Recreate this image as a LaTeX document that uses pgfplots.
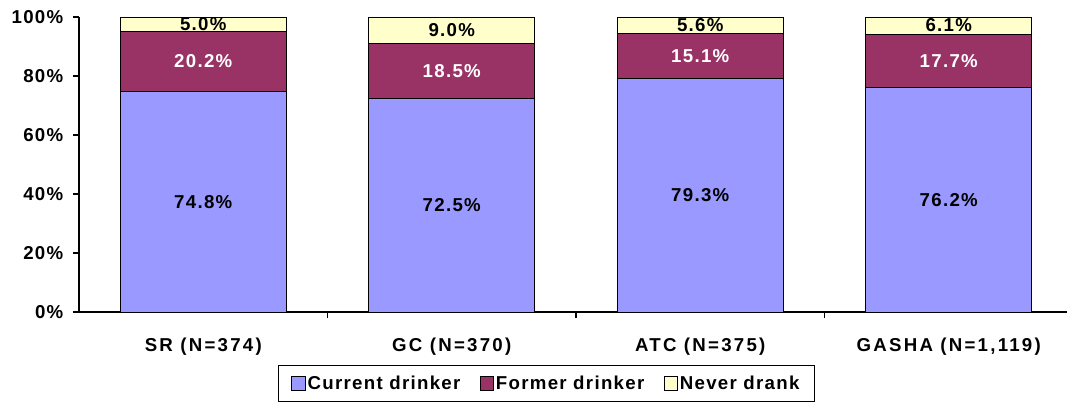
\documentclass[border=0pt]{standalone}
\usepackage{pgfplots}
\pgfplotsset{compat=1.18}
\usepackage{fontspec}
\setmainfont{Liberation Sans}[LetterSpace=7]
\newfontfamily\catfamily{Liberation Sans}[LetterSpace=12]
\definecolor{cur}{HTML}{9999FF}
\definecolor{form}{HTML}{993366}
\definecolor{never}{HTML}{FFFFCC}
\newcommand{\lblfont}{\bfseries\fontsize{14}{16}\selectfont}
\newcommand{\catfont}{\catfamily\bfseries\fontsize{14}{16}\selectfont}
\pgfplotsset{
  base/.style={width=745.5pt,height=221.25pt,scale only axis,
    xmin=-0.5,xmax=3.5,ymin=0,ymax=100,at={(0,0)},anchor=south west},
}
\begin{document}
\begin{tikzpicture}
\path[use as bounding box] (-59.25pt,-69pt) rectangle (741pt,234pt);
\begin{axis}[base,
  ybar stacked, bar width=0.668,
  axis x line*=bottom, axis y line*=left,
  axis line style={-,line width=0.8pt},
  ytick={0,20,40,60,80,100},
  yticklabels={0\%,20\%,40\%,60\%,80\%,100\%},
  y tick label style={font=\lblfont,xshift=-3.75pt},
  tick align=outside, major tick length=4.5pt,
  tick style={line width=0.8pt,black},
  xtick={0.5,1.5,2.5}, xticklabels={},
  legend columns=3,
  legend style={at={(0.4703,-0.2424)},anchor=center,draw=black,line width=0.8pt,
    font=\lblfont, inner xsep=10pt, inner ysep=6pt,
    nodes={inner xsep=1.5pt},
    /tikz/every even column/.append style={column sep=13pt}},
  legend image code/.code={\draw[#1,draw=black,line width=0.6pt] (0pt,-5pt) rectangle (10pt,5pt);},
]
\addplot[fill=cur,draw=black,line width=0.75pt] coordinates {(0,74.8) (1,72.5) (2,79.3) (3,76.2)};
\addplot[fill=form,draw=black,line width=0.75pt] coordinates {(0,20.2) (1,18.5) (2,15.1) (3,17.7)};
\addplot[fill=never,draw=black,line width=0.75pt] coordinates {(0,5.0) (1,9.0) (2,5.6) (3,6.1)};
\legend{Current drinker,Former drinker,Never drank}
\end{axis}
\begin{axis}[base,
  axis line style={draw=none},
  ytick=\empty,
  xtick={0,1,2,3},
  xticklabels={SR (N=374),GC (N=370),ATC (N=375),GASHA (N=1{,}119)},
  xtick style={draw=none},
  x tick label style={font=\catfont,yshift=-16pt},
  no markers,
  nodes near coords,
  point meta=explicit symbolic,
  nodes near coords align=center,
  every node near coord/.append style={font=\lblfont},
]
\addplot[draw=none] table[meta=l] {
x y l
0 37.4 74.8\%
1 36.25 72.5\%
2 39.65 79.3\%
3 38.1 76.2\%
};
\addplot[draw=none,every node near coord/.append style={text=white}] table[meta=l] {
x y l
0 84.9 20.2\%
1 81.75 18.5\%
2 86.85 15.1\%
3 85.05 17.7\%
};
\addplot[draw=none] table[meta=l] {
x y l
0 97.7 5.0\%
1 95.7 9.0\%
2 97.4 5.6\%
3 97.1 6.1\%
};
\end{axis}
\end{tikzpicture}
\end{document}
